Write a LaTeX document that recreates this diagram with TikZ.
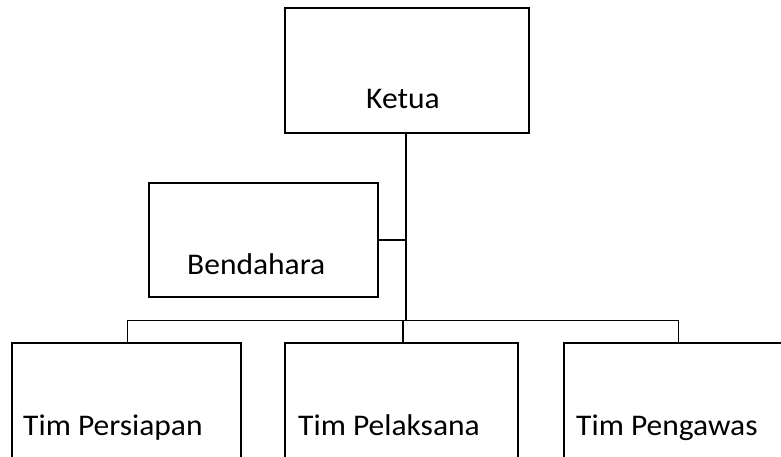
\documentclass[tikz,border=0pt]{standalone}
\usepackage{fontspec}
\setmainfont{Carlito}[FakeStretch=1.05]
\begin{document}
\begin{tikzpicture}[x=1pt,y=1pt,
  box/.style={draw=black,line width=2.2pt,inner sep=0pt,minimum width=#1},
  openbox/.style={draw=none,inner sep=0pt},
  lbl/.style={anchor=base west,inner sep=0pt,font=\fontsize{30}{34}\selectfont},
  thick line/.style={line width=2.4pt},
  thin line/.style={line width=0.9pt}]
\useasboundingbox (0,0) rectangle (781,457);
% boxes
\node[box=244pt,minimum height=125pt] (ketua) at (407,386.5) {};
\node[box=229pt,minimum height=114pt] (bend) at (263.5,217) {};
\node[openbox,minimum width=228pt,minimum height=124pt] (tp1) at (126.5,52) {};
\node[openbox,minimum width=233pt,minimum height=124pt] (tp2) at (401.5,52) {};
\node[openbox,minimum width=236pt,minimum height=124pt] (tp3) at (682,52) {};
\foreach \n in {tp1,tp2}
  \draw[line width=2.2pt] (\n.south west) -- (\n.north west) -- (\n.north east) -- (\n.south east);
\draw[line width=2.2pt] (tp3.south west) -- (tp3.north west) -- (tp3.north east);
% labels
\node[lbl] (tketua) at (366,348) {Ketua};
\node[lbl] (tbend) at (187,182) {Bendahara};
\node[lbl] (t1) at (23,21) {Tim Persiapan};
\node[lbl] (t2) at (298,21) {Tim Pelaksana};
\node[lbl] (t3) at (576,21) {Tim Pengawas};
% connectors
\coordinate (j) at (406,137);
\coordinate (jl) at (127,137);
\coordinate (jr) at (678,137);
\coordinate (jm) at (403,137);
\draw[thick line] (ketua.south -| j) -- (j);
\draw[thick line] (bend.east) -- (bend.east -| j);
\draw[thin line] (jl) -- (jr);
\draw[thin line] (jl) -- (jl |- tp1.north);
\draw[thin line] (jr) -- (jr |- tp3.north);
\draw[line width=1.8pt] (jm) -- (jm |- tp2.north);
\end{tikzpicture}
\end{document}
